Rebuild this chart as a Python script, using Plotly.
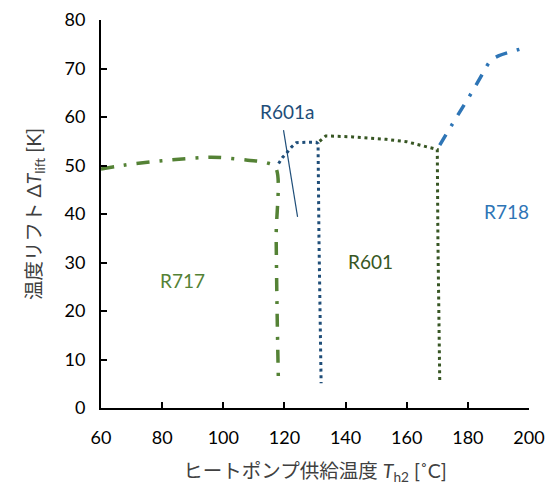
import plotly.graph_objects as go

# R717 (ammonia)
r717_x = [60, 65, 70, 80, 90, 95.7, 100, 108, 114, 117.1, 117.3, 117.6, 118.0]
r717_y = [49.3, 49.8, 50.3, 51.0, 51.5, 51.7, 51.6, 51.1, 50.6, 49.6, 35, 20, 6.4]

# R601a (isopentane)
r601a_x = [118.1, 119.3, 121.0, 122.3, 123.9, 126, 128, 130.4, 131.0, 131.3, 131.6, 132.0]
r601a_y = [50.4, 51.6, 52.8, 53.8, 54.7, 54.8, 54.8, 54.8, 54.5, 35, 20, 5.1]

# R601 (pentane)
r601_x = [131.5, 133.5, 142.4, 153.3, 160, 164.3, 170.0, 170.2, 170.5, 170.8]
r601_y = [55.0, 56.1, 55.9, 55.4, 54.9, 54.2, 53.3, 35, 20, 5.6]

# R718 (water)
r718_x = [170.8, 174.8, 181.2, 185.0, 187.3, 190, 194.3, 198.3]
r718_y = [54.2, 58.4, 65.0, 69.1, 71.5, 72.6, 73.5, 74.2]

x_ticks = [60, 80, 100, 120, 140, 160, 180, 200]
y_ticks = [0, 10, 20, 30, 40, 50, 60, 70, 80]

C717 = "#548235"
C601 = "#375623"
C601a = "#1F4E79"
C718 = "#2E75B6"

FONT = "Lato, 'Noto Sans CJK JP', sans-serif"

fig = go.Figure()
fig.add_trace(go.Scatter(x=r717_x, y=r717_y, mode="lines", line=dict(color=C717, width=3.5, dash="13px,10px,3px,10px"), line_shape="spline"))
fig.add_trace(go.Scatter(x=r601a_x, y=r601a_y, mode="lines", line=dict(color=C601a, width=3, dash="3px,3.7px"), line_shape="linear"))
fig.add_trace(go.Scatter(x=r601_x, y=r601_y, mode="lines", line=dict(color=C601, width=3, dash="3px,3.7px"), line_shape="linear"))
fig.add_trace(go.Scatter(x=r718_x, y=r718_y, mode="lines", line=dict(color=C718, width=3.5, dash="12px,10px,3px,10px"), line_shape="spline"))

fig.add_shape(type="line", x0=119.7, y0=57.3, x1=124.3, y1=39.4, line=dict(color=C601a, width=1.2))

ann = [
    ("R601a", 120.7, 61.2, C601a),
    ("R717", 86.5, 26.3, C717),
    ("R601", 148.3, 30.2, C601),
    ("R718", 192.5, 40.5, C718),
]
for t, x, y, c in ann:
    fig.add_annotation(x=x, y=y, text=t, showarrow=False, font=dict(family=FONT, size=19, color=c))

fig.update_layout(
    width=545, height=491,
    margin=dict(l=101, r=16, t=20, b=83),
    paper_bgcolor="white", plot_bgcolor="white",
    showlegend=False,
    font=dict(family=FONT, size=18, color="#000000"),
)
fig.update_xaxes(
    range=[60, 200], tickvals=x_ticks, ticktext=[str(v) for v in x_ticks],
    automargin=False,
    showgrid=False, zeroline=False, showline=True, linecolor="black", linewidth=2,
    ticks="inside", ticklen=6, tickwidth=1.5, tickcolor="black",
    tickfont=dict(family=FONT, size=18, color="#000000"), ticklabelstandoff=12,
    title=dict(text="ヒートポンプ供給温度 <i>T</i><sub>h2</sub> [˚C]", font=dict(family=FONT, size=19.5, color="#404040"), standoff=18),
)
fig.update_yaxes(
    range=[0, 80], tickvals=y_ticks, ticktext=[str(v) for v in y_ticks],
    automargin=False,
    showgrid=False, zeroline=False, showline=True, linecolor="black", linewidth=2,
    ticks="inside", ticklen=6, tickwidth=1.5, tickcolor="black",
    tickfont=dict(family=FONT, size=18, color="#000000"), ticklabelstandoff=10,
    title=dict(text="温度リフト Δ<i>T</i><sub>lift</sub> [K]", font=dict(family=FONT, size=19.5, color="#404040"), standoff=18),
)

fig.write_html("out.html")
